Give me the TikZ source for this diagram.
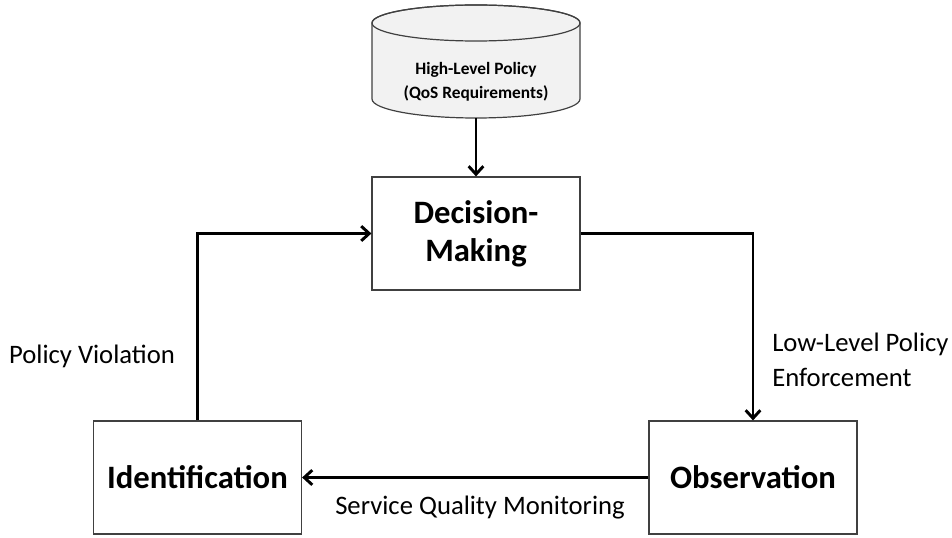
\documentclass[tikz,border=0pt]{standalone}
\usepackage{fontspec}
\setmainfont{Carlito}
\usetikzlibrary{arrows.meta}
\definecolor{edgegray}{HTML}{404040}
\definecolor{dbfill}{HTML}{F2F2F2}
\begin{document}
\begin{tikzpicture}[x=0.75pt,y=-0.75pt,
  stagebox/.style={draw=edgegray, line width=0.9pt, fill=white,
    minimum width=156pt, minimum height=84.75pt, align=center,
    font=\fontsize{24.5}{28.5}\selectfont\bfseries, inner sep=0pt},
  flow/.style={line width=2.2pt, -{Straight Barb[length=6pt,width=11pt,line width=2.2pt]}},
  lbl/.style={font=\fontsize{20}{26}\selectfont, align=left, inner sep=0pt}]
\useasboundingbox (0,0) rectangle (952,538);

% policy store (cylinder)
\path[fill=dbfill, draw=edgegray, line width=0.9pt]
  (372,23) -- (372,99) arc[start angle=180, end angle=0, x radius=104, y radius=19]
  -- (580,23) arc[start angle=0, end angle=-180, x radius=104, y radius=18] -- cycle;
\draw[edgegray, line width=0.9pt] (476,23) ellipse[x radius=104, y radius=18];
\node[font=\fontsize{13}{18}\selectfont\bfseries, align=center] (hlp) at (476,82)
  {High-Level Policy\\(QoS Requirements)};
\coordinate (store) at (476,118);

% stages of the loop
\node[stagebox] (dm) at (476,233.5) {Decision-\\Making};
\node[stagebox] (ident) at (197.5,477.5) {Identification};
\node[stagebox] (obs) at (753,477.5) {Observation};

% connectors
\draw[flow] (store) -- (dm.north);
\draw[flow] (dm.east) -| (obs.north);
\draw[flow] (obs.west) -- (ident.east);
\draw[flow] (ident.north) |- (dm.west);

% labels
\node[lbl] (viol) at (92,356) {Policy Violation};
\node[lbl, anchor=west] (enf) at (772,360) {Low-Level Policy\\Enforcement};
\node[lbl] (mon) at (480,508) {Service Quality Monitoring};
\end{tikzpicture}
\end{document}
